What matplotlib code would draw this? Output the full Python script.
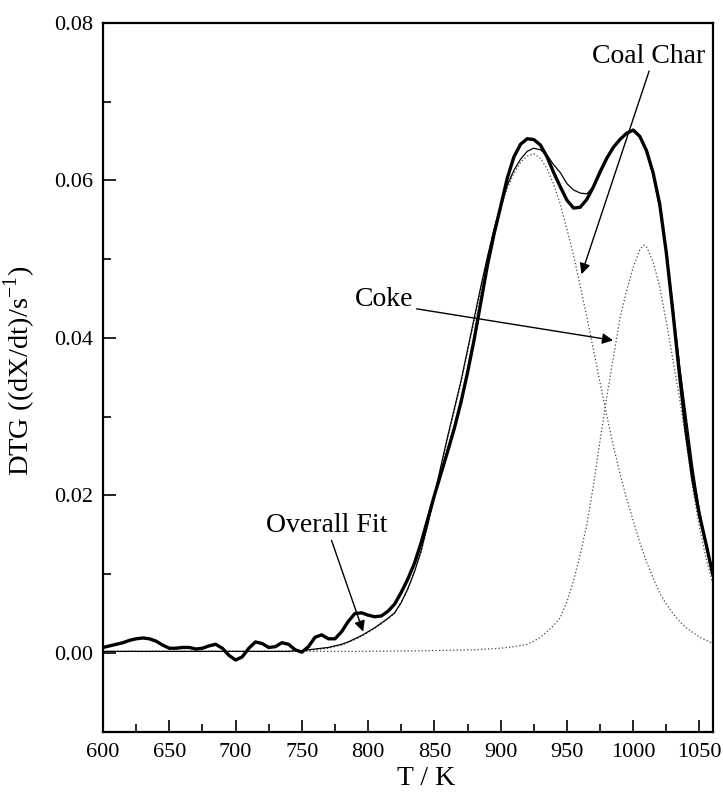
import numpy as np
import matplotlib
matplotlib.use("Agg")
import matplotlib.pyplot as plt

plt.rcParams['font.family'] = ['Liberation Serif', 'DejaVu Serif']
plt.rcParams['mathtext.fontset'] = 'custom'
plt.rcParams['mathtext.rm'] = 'Liberation Serif'

# measured DTG curve (thick line)
t_exp = [600, 605, 610, 615, 620, 625, 630, 635, 640, 645, 650, 655, 660, 665, 670, 675,
         680, 685, 690, 695, 700, 705, 710, 715, 720, 725, 730, 735, 740, 745, 750, 755,
         760, 765, 770, 775, 780, 785, 790, 795, 800, 805, 810, 815, 820, 825, 830, 835,
         840, 845, 850, 855, 860, 865, 870, 875, 880, 885, 890, 895, 900, 905, 910, 915,
         920, 925, 930, 935, 940, 945, 950, 955, 960, 965, 970, 975, 980, 985, 990, 995,
         1000, 1005, 1010, 1015, 1020, 1025, 1030, 1035, 1040, 1045, 1050, 1055, 1060]
dtg_exp = [0.0007, 0.0009, 0.0011, 0.0013, 0.0016, 0.0018, 0.0019, 0.0018, 0.0015, 0.0010,
           0.0006, 0.0006, 0.0007, 0.0007, 0.0005, 0.0006, 0.0009, 0.0011, 0.0006, -0.0003,
           -0.0009, -0.0005, 0.0006, 0.0014, 0.0012, 0.0007, 0.0008, 0.0013, 0.0011, 0.0004,
           0.0001, 0.0008, 0.0020, 0.0023, 0.0018, 0.0018, 0.0027, 0.0040, 0.0050, 0.0051,
           0.0048, 0.0046, 0.0047, 0.0053, 0.0062, 0.0077, 0.0094, 0.0114, 0.0140, 0.0170,
           0.0200, 0.0228, 0.0256, 0.0285, 0.0318, 0.0356, 0.0398, 0.0445, 0.0492, 0.0532,
           0.0567, 0.0603, 0.0630, 0.0646, 0.0653, 0.0652, 0.0645, 0.0630, 0.0610, 0.0592,
           0.0575, 0.0565, 0.0566, 0.0576, 0.0592, 0.0611, 0.0628, 0.0642, 0.0652, 0.0660,
           0.0664, 0.0656, 0.0638, 0.0610, 0.0570, 0.0508, 0.0432, 0.0352, 0.0280, 0.0220,
           0.0175, 0.0138, 0.0100]

# overall fit (thin line)
t_fit = [600, 700, 740, 745, 750, 755, 760, 765, 770, 775, 780, 785, 790, 795, 800, 805,
         810, 815, 820, 825, 830, 835, 840, 845, 850, 855, 860, 865, 870, 875, 880, 885,
         890, 895, 900, 905, 910, 915, 920, 925, 930, 935, 940, 945, 950, 955, 960, 965,
         970, 975, 980, 985, 990, 995, 1000, 1005, 1010, 1015, 1020, 1025, 1030, 1035,
         1040, 1045, 1050, 1055, 1060]
dtg_fit = [0.0002, 0.0002, 0.0002, 0.0003, 0.0003, 0.0004, 0.0005, 0.0006, 0.0007, 0.0009,
           0.0011, 0.0014, 0.0018, 0.0022, 0.0027, 0.0032, 0.0038, 0.0044, 0.0051, 0.0064,
           0.0082, 0.0103, 0.0130, 0.0163, 0.0200, 0.0238, 0.0275, 0.0310, 0.0345, 0.0385,
           0.0425, 0.0465, 0.0503, 0.0538, 0.0568, 0.0594, 0.0613, 0.0627, 0.0637, 0.0641,
           0.0639, 0.0632, 0.0620, 0.0610, 0.0596, 0.0588, 0.0584, 0.0583, 0.0592, 0.0608,
           0.0628, 0.0643, 0.0653, 0.0660, 0.0663, 0.0656, 0.0637, 0.0607, 0.0565, 0.0512,
           0.0440, 0.0365, 0.0300, 0.0235, 0.0180, 0.0136, 0.0100]

# coal char component (dotted)
t_char = [600, 700, 740, 750, 760, 770, 780, 790, 800, 810, 820, 830, 840, 850, 860, 870,
          880, 890, 900, 905, 910, 915, 920, 925, 930, 935, 940, 945, 950, 955, 960, 965,
          970, 975, 980, 985, 990, 995, 1000, 1005, 1010, 1015, 1020, 1025, 1030, 1035,
          1040, 1045, 1050, 1055, 1060]
dtg_char = [0.0002, 0.0002, 0.0002, 0.0003, 0.0004, 0.0006, 0.0010, 0.0017, 0.0026, 0.0037,
            0.0050, 0.0080, 0.0128, 0.0197, 0.0272, 0.0342, 0.0421, 0.0500, 0.0564, 0.0590,
            0.0609, 0.0623, 0.0631, 0.0634, 0.0628, 0.0615, 0.0595, 0.0570, 0.0538, 0.0505,
            0.0466, 0.0427, 0.0385, 0.0343, 0.0302, 0.0263, 0.0228, 0.0196, 0.0168, 0.0140,
            0.0116, 0.0095, 0.0076, 0.0062, 0.0050, 0.0040, 0.0032, 0.0026, 0.0020, 0.0016,
            0.0012]

# coke component (dotted)
t_coke = [600, 700, 800, 850, 880, 900, 910, 920, 925, 930, 935, 940, 945, 950, 955, 960,
          965, 970, 975, 980, 985, 990, 995, 1000, 1005, 1008, 1010, 1015, 1020, 1025, 1030,
          1035, 1040, 1045, 1050, 1055, 1060]
dtg_coke = [0.0002, 0.0002, 0.0002, 0.0003, 0.0004, 0.0006, 0.0008, 0.0011, 0.0015, 0.0020,
            0.0027, 0.0035, 0.0045, 0.0065, 0.0092, 0.0125, 0.0163, 0.0213, 0.0270, 0.0325,
            0.0375, 0.0425, 0.0460, 0.0490, 0.0512, 0.0518, 0.0516, 0.0497, 0.0465, 0.0420,
            0.0372, 0.0323, 0.0268, 0.0208, 0.0160, 0.0120, 0.0088]

fig = plt.figure(figsize=(7.23, 7.93), dpi=100)
ax = fig.add_axes([0.1425, 0.0773, 0.8433, 0.8937])

dots = (0, (1, 1.8))
ax.plot(t_char, dtg_char, color='#444444', lw=0.9, linestyle=dots)
ax.plot(t_coke, dtg_coke, color='#444444', lw=0.9, linestyle=dots)
ax.plot(t_fit, dtg_fit, color='black', lw=0.9)
ax.plot(t_exp, dtg_exp, color='black', lw=2.4)

ax.set_xlim(600, 1060)
ax.set_ylim(-0.01, 0.08)
ax.set_xticks(np.arange(600, 1051, 50))
ax.set_xticks(np.arange(625, 1060, 25), minor=True)
ax.set_yticks([0.00, 0.02, 0.04, 0.06, 0.08])
ax.set_yticks([-0.01, 0.01, 0.03, 0.05, 0.07], minor=True)
ax.yaxis.set_major_formatter(matplotlib.ticker.FormatStrFormatter('%.2f'))

ax.tick_params(which='both', direction='in', top=False, right=False, width=1.2)
ax.tick_params(which='major', length=9, labelsize=16)
ax.tick_params(axis='y', which='major', pad=7)
ax.tick_params(axis='x', which='major', pad=8)
ax.tick_params(which='minor', length=6)
for s in ax.spines.values():
    s.set_linewidth(1.6)

ax.set_xlabel('T / K', fontsize=20)
ax.xaxis.set_label_coords(0.53, -0.048)
ax.set_ylabel('DTG ((dX/dt)/s$^{\\mathregular{-1}}$)', fontsize=20.5)
ax.yaxis.set_label_coords(-0.106, 0.51)

arrow = dict(arrowstyle='-|>', color='black', lw=1.0, mutation_scale=16,
             shrinkA=0, shrinkB=0)

ax.text(1012, 0.0757, 'Coal Char', fontsize=20, ha='center', va='center')
ax.annotate('', xy=(961, 0.0481), xytext=(1012, 0.0739), arrowprops=arrow)

ax.text(812, 0.0449, 'Coke', fontsize=20, ha='center', va='center')
ax.annotate('', xy=(984.8, 0.0397), xytext=(836.6, 0.0437), arrowprops=arrow)

ax.text(769, 0.0162, 'Overall Fit', fontsize=20, ha='center', va='center')
ax.annotate('', xy=(796.3, 0.0027), xytext=(772.4, 0.0143), arrowprops=arrow)

fig.savefig('out.png', dpi=100)
